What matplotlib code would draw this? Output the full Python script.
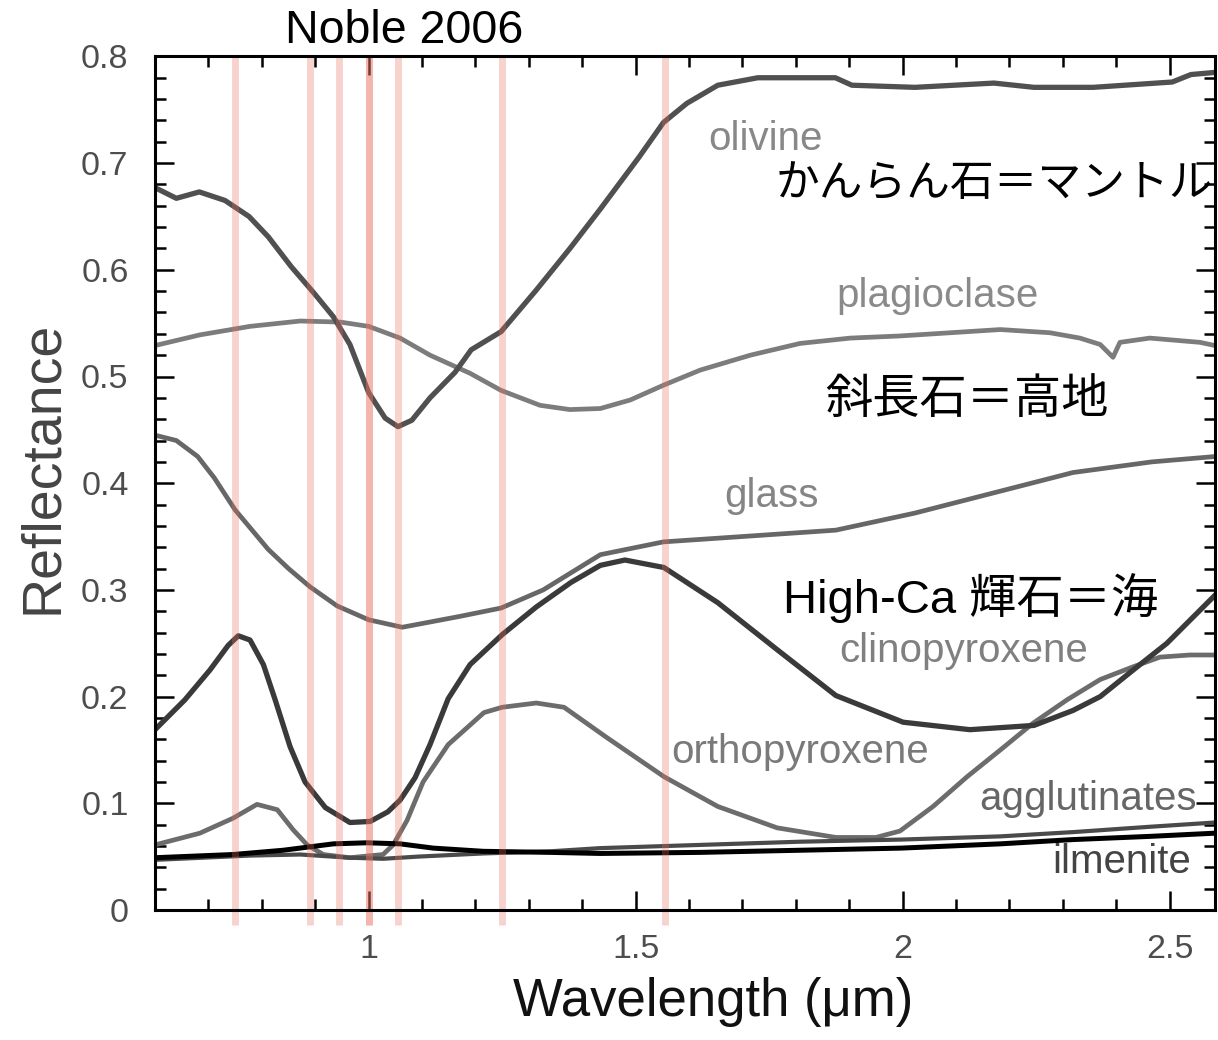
import matplotlib
matplotlib.use('Agg')
import matplotlib.pyplot as plt
from matplotlib.ticker import FixedLocator

plt.rcParams['font.family'] = ['Liberation Sans', 'Noto Sans CJK JP', 'DejaVu Sans']

# spectra: wavelength (um) / reflectance
olivine_x = [0.600, 0.640, 0.683, 0.731, 0.776, 0.812, 0.855, 0.898, 0.934, 0.965, 1.000, 1.031, 1.055, 1.081,
             1.115, 1.162, 1.192, 1.248, 1.314, 1.377, 1.434, 1.507, 1.552, 1.596, 1.654, 1.729, 1.874, 1.905,
             2.023, 2.171, 2.246, 2.357, 2.505, 2.540, 2.585]
olivine_y = [0.677, 0.667, 0.673, 0.665, 0.650, 0.631, 0.603, 0.578, 0.556, 0.530, 0.485, 0.461, 0.453, 0.459,
             0.480, 0.504, 0.525, 0.542, 0.581, 0.620, 0.657, 0.706, 0.738, 0.756, 0.773, 0.780, 0.780, 0.773,
             0.771, 0.775, 0.771, 0.771, 0.776, 0.783, 0.785]

plag_x = [0.600, 0.684, 0.778, 0.872, 0.947, 1.000, 1.059, 1.115, 1.190, 1.248, 1.321, 1.377, 1.434, 1.490,
          1.553, 1.621, 1.715, 1.808, 1.902, 1.995, 2.089, 2.183, 2.276, 2.332, 2.370, 2.394, 2.407, 2.463,
          2.557, 2.585]
plag_y = [0.529, 0.539, 0.547, 0.552, 0.551, 0.547, 0.536, 0.520, 0.503, 0.487, 0.473, 0.469, 0.470, 0.478,
          0.492, 0.506, 0.520, 0.531, 0.536, 0.538, 0.541, 0.544, 0.541, 0.536, 0.530, 0.518, 0.532, 0.536,
          0.532, 0.529]

glass_x = [0.600, 0.640, 0.680, 0.711, 0.750, 0.812, 0.850, 0.890, 0.941, 1.000, 1.063, 1.169, 1.248, 1.327,
           1.434, 1.552, 1.729, 1.875, 2.023, 2.171, 2.319, 2.467, 2.585]
glass_y = [0.445, 0.440, 0.425, 0.405, 0.375, 0.338, 0.320, 0.303, 0.285, 0.272, 0.265, 0.275, 0.283, 0.300,
           0.333, 0.345, 0.351, 0.356, 0.372, 0.391, 0.410, 0.420, 0.425]

cpx_x = [0.600, 0.656, 0.703, 0.737, 0.756, 0.778, 0.803, 0.825, 0.853, 0.881, 0.919, 0.965, 1.003, 1.036,
         1.059, 1.087, 1.115, 1.149, 1.190, 1.250, 1.314, 1.379, 1.434, 1.480, 1.553, 1.654, 1.765, 1.875,
         2.001, 2.126, 2.246, 2.319, 2.370, 2.432, 2.495, 2.557, 2.585]
cpx_y = [0.169, 0.197, 0.225, 0.248, 0.257, 0.253, 0.230, 0.197, 0.153, 0.120, 0.096, 0.082, 0.083, 0.092,
         0.103, 0.124, 0.155, 0.198, 0.230, 0.258, 0.284, 0.307, 0.323, 0.328, 0.321, 0.288, 0.244, 0.201,
         0.176, 0.169, 0.173, 0.187, 0.200, 0.225, 0.250, 0.281, 0.295]

opx_x = [0.600, 0.684, 0.746, 0.791, 0.829, 0.859, 0.885, 0.915, 0.965, 1.027, 1.046, 1.072, 1.102, 1.149,
         1.216, 1.250, 1.314, 1.366, 1.445, 1.553, 1.654, 1.765, 1.875, 1.950, 1.995, 2.057, 2.121, 2.183,
         2.244, 2.308, 2.370, 2.432, 2.482, 2.538, 2.585]
opx_y = [0.061, 0.072, 0.086, 0.099, 0.094, 0.075, 0.061, 0.052, 0.049, 0.052, 0.061, 0.084, 0.120, 0.155,
         0.185, 0.190, 0.194, 0.190, 0.162, 0.125, 0.097, 0.077, 0.068, 0.068, 0.074, 0.097, 0.125, 0.150,
         0.175, 0.197, 0.216, 0.228, 0.237, 0.239, 0.239]

aggl_x = [0.600, 0.778, 0.872, 0.965, 1.027, 1.091, 1.215, 1.340, 1.434, 1.621, 1.808, 1.997, 2.183, 2.319,
          2.463, 2.585]
aggl_y = [0.047, 0.051, 0.052, 0.049, 0.048, 0.050, 0.053, 0.055, 0.058, 0.061, 0.064, 0.066, 0.069, 0.073,
          0.078, 0.082]

ilm_x = [0.600, 0.746, 0.840, 0.934, 0.997, 1.059, 1.121, 1.215, 1.340, 1.434, 1.621, 1.808, 1.997, 2.183,
         2.319, 2.463, 2.585]
ilm_y = [0.049, 0.052, 0.056, 0.062, 0.063, 0.062, 0.058, 0.055, 0.054, 0.053, 0.054, 0.056, 0.058, 0.062,
         0.066, 0.069, 0.072]

# filter band centres (um); 1.0 appears twice
bands = [0.75, 0.89, 0.945, 1.0, 1.0, 1.055, 1.25, 1.555]

xticks = [1, 1.5, 2, 2.5]
xticklabels = ['1', '1.5', '2', '2.5']
yticks = [0, 0.1, 0.2, 0.3, 0.4, 0.5, 0.6, 0.7, 0.8]
yticklabels = ['0', '0.1', '0.2', '0.3', '0.4', '0.5', '0.6', '0.7', '0.8']

fig = plt.figure(figsize=(12.18, 10.4), dpi=100)
ax = fig.add_axes([155/1218, 130/1040, 1060/1218, 853.6/1040])

ax.plot(plag_x, plag_y, color='#7c7c7c', lw=3.4, solid_joinstyle='round')
ax.plot(glass_x, glass_y, color='#676767', lw=3.4, solid_joinstyle='round')
ax.plot(opx_x, opx_y, color='#6c6c6c', lw=3.4, solid_joinstyle='round')
ax.plot(olivine_x, olivine_y, color='#505050', lw=3.8, solid_joinstyle='round')
ax.plot(cpx_x, cpx_y, color='#3a3a3a', lw=3.8, solid_joinstyle='round')
ax.plot(aggl_x, aggl_y, color='#4a4a4a', lw=3.0, solid_joinstyle='round')
ax.plot(ilm_x, ilm_y, color='#000000', lw=3.6, solid_joinstyle='round')

ax.vlines(bands, -0.014, 0.8, colors='#e8705f', alpha=0.3, lw=5, zorder=3, clip_on=False)

ax.set_xlim(0.6, 2.585)
ax.set_ylim(0, 0.8)

ax.xaxis.set_major_locator(FixedLocator(xticks))
ax.set_xticklabels(xticklabels)
ax.xaxis.set_minor_locator(FixedLocator([0.7, 0.8, 0.9, 1.1, 1.2, 1.3, 1.4, 1.6, 1.7, 1.8, 1.9,
                                         2.1, 2.2, 2.3, 2.4]))
ax.yaxis.set_major_locator(FixedLocator(yticks))
ax.set_yticklabels(yticklabels)
ax.yaxis.set_minor_locator(FixedLocator([i * 0.02 for i in range(41) if i % 5]))

ax.tick_params(which='both', direction='in', top=True, right=True, width=1.8, color='black', zorder=5)
ax.tick_params(which='major', length=14, labelsize=24.5, labelcolor='#4d4d4d')
ax.tick_params(which='minor', length=8)
ax.tick_params(axis='x', which='major', pad=17)
ax.tick_params(axis='y', which='major', pad=19)
for s in ax.spines.values():
    s.set_linewidth(2.2)
    s.set_zorder(6)

ax.set_xlabel('Wavelength (μm)', fontsize=38, color='#111111')
ax.xaxis.set_label_coords(0.527, -0.0785)
ax.set_ylabel('Reflectance', fontsize=40, color='#444444')
ax.yaxis.set_label_coords(-0.081, 0.518)

# curve names
lab = dict(fontsize=29, ha='center', va='baseline')
ax.text(1.744, 0.712, 'olivine', color='#888888', **lab)
ax.text(2.065, 0.565, 'plagioclase', color='#8a8a8a', **lab)
ax.text(1.754, 0.378, 'glass', color='#858585', **lab)
ax.text(2.115, 0.232, 'clinopyroxene', color='#808080', **lab)
ax.text(1.808, 0.138, 'orthopyroxene', color='#7a7a7a', **lab)
ax.text(2.347, 0.0937, 'agglutinates', color='#666666', **lab)
ax.text(2.411, 0.0347, 'ilmenite', color='#444444', **lab)

# slide annotations
fig.text(285/1218, 1 - 43/1040, 'Noble 2006', fontsize=33.5, ha='left', va='baseline', color='black')
fig.text(776/1218, 1 - 197/1040, 'かんらん石＝マントル', fontsize=31.5, ha='left', va='baseline', color='black')
fig.text(825/1218, 1 - 413/1040, '斜長石＝高地', fontsize=34, ha='left', va='baseline', color='black')
fig.text(783/1218, 1 - 613/1040, 'High-Ca 輝石＝海', fontsize=34, ha='left', va='baseline', color='black')

fig.savefig('out.png', dpi=100)
